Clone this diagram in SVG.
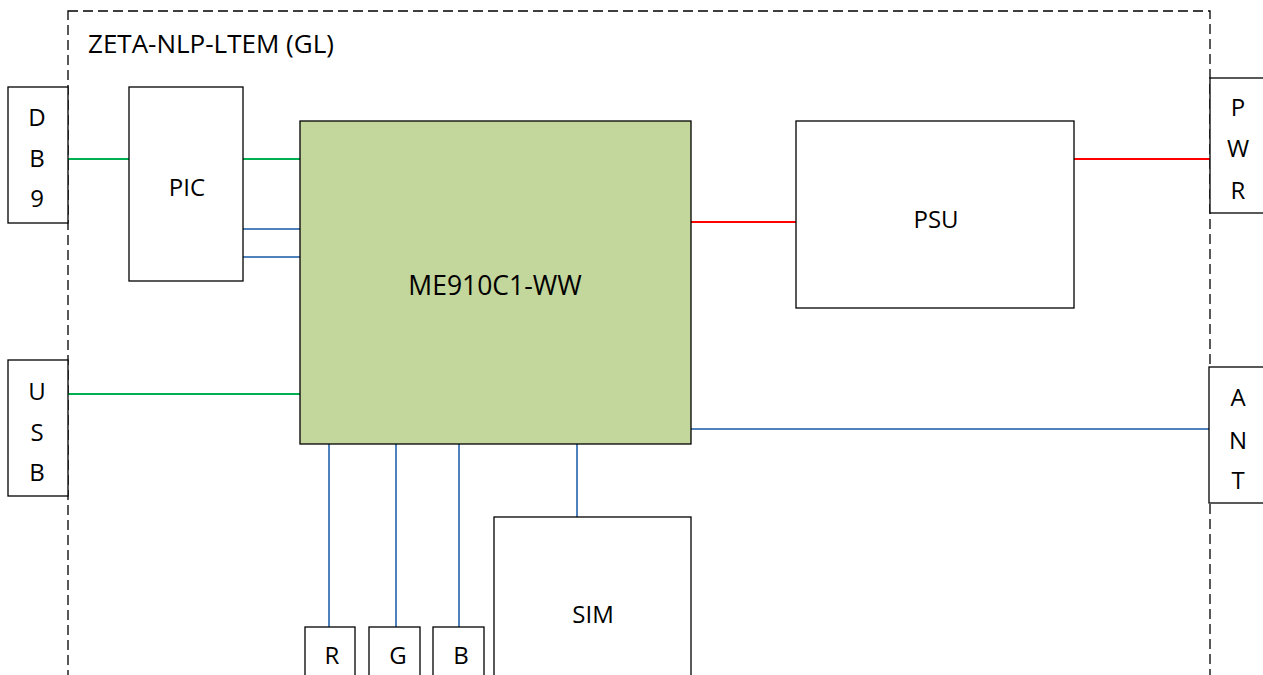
<svg xmlns="http://www.w3.org/2000/svg" width="1263" height="675" viewBox="0 0 1263 675">
<style>
.box{fill:#fff;stroke:#000;stroke-width:1.3}
.me{fill:#C3D69B;stroke:#000;stroke-width:1.3}
.t{font-family:"Open Sans","Liberation Sans",sans-serif;font-size:24px;fill:#000;text-anchor:middle;dominant-baseline:central}
.g{stroke:#00B050;stroke-width:2;fill:none}
.b{stroke:#4F81BD;stroke-width:2;fill:none}
.r{stroke:#FF0000;stroke-width:2;fill:none}
</style>
<rect width="1263" height="675" fill="#fff"/>
<g id="container">
<rect x="68" y="11" width="1142" height="700" fill="none" stroke="#000" stroke-width="1.3" stroke-dasharray="10,5"/>
<text x="88" y="43" class="t" style="text-anchor:start;font-size:26px">ZETA-NLP-LTEM (GL)</text>
</g>
<g id="connectors">
<line class="g" x1="68" y1="159" x2="129" y2="159"/>
<line class="g" x1="243" y1="159" x2="300" y2="159"/>
<line class="b" x1="243" y1="229" x2="300" y2="229"/>
<line class="b" x1="243" y1="257" x2="300" y2="257"/>
<line class="g" x1="68" y1="394" x2="300" y2="394"/>
<line class="r" x1="691" y1="222" x2="796" y2="222"/>
<line class="r" x1="1074" y1="159" x2="1210" y2="159"/>
<line class="b" x1="691" y1="429" x2="1209" y2="429"/>
<line class="b" x1="329" y1="444" x2="329" y2="627"/>
<line class="b" x1="396" y1="444" x2="396" y2="627"/>
<line class="b" x1="459" y1="444" x2="459" y2="627"/>
<line class="b" x1="577" y1="444" x2="577" y2="517"/>
</g>
<g id="db9">
<rect class="box" x="8" y="87" width="60" height="136"/>
<text class="t" x="37" y="116">D</text><text class="t" x="37" y="157">B</text><text class="t" x="37" y="197">9</text>
</g>
<g id="usb">
<rect class="box" x="8" y="360" width="60" height="136"/>
<text class="t" x="37" y="390">U</text><text class="t" x="37" y="431">S</text><text class="t" x="37" y="471">B</text>
</g>
<g id="pic">
<rect class="box" x="129" y="87" width="114" height="194"/>
<text class="t" x="187" y="186">PIC</text>
</g>
<g id="me910">
<rect class="me" x="300" y="121" width="391" height="323"/>
<text class="t" x="495" y="285" style="font-size:26.5px">ME910C1-WW</text>
</g>
<g id="psu">
<rect class="box" x="796" y="121" width="278" height="187"/>
<text class="t" x="936" y="218">PSU</text>
</g>
<g id="pwr">
<rect class="box" x="1210" y="78" width="60" height="135"/>
<text class="t" x="1238" y="106">P</text><text class="t" x="1238" y="147">W</text><text class="t" x="1238" y="189">R</text>
</g>
<g id="ant">
<rect class="box" x="1209" y="367" width="60" height="136"/>
<text class="t" x="1238" y="396">A</text><text class="t" x="1238" y="439">N</text><text class="t" x="1238" y="479">T</text>
</g>
<g id="r">
<rect class="box" x="305" y="627" width="50" height="60"/>
<text class="t" x="332" y="654">R</text>
</g>
<g id="g">
<rect class="box" x="369" y="627" width="51" height="60"/>
<text class="t" x="398" y="654">G</text>
</g>
<g id="b">
<rect class="box" x="433" y="627" width="51" height="60"/>
<text class="t" x="461" y="654">B</text>
</g>
<g id="sim">
<rect class="box" x="494" y="517" width="197" height="170"/>
<text class="t" x="593" y="613">SIM</text>
</g>
</svg>
